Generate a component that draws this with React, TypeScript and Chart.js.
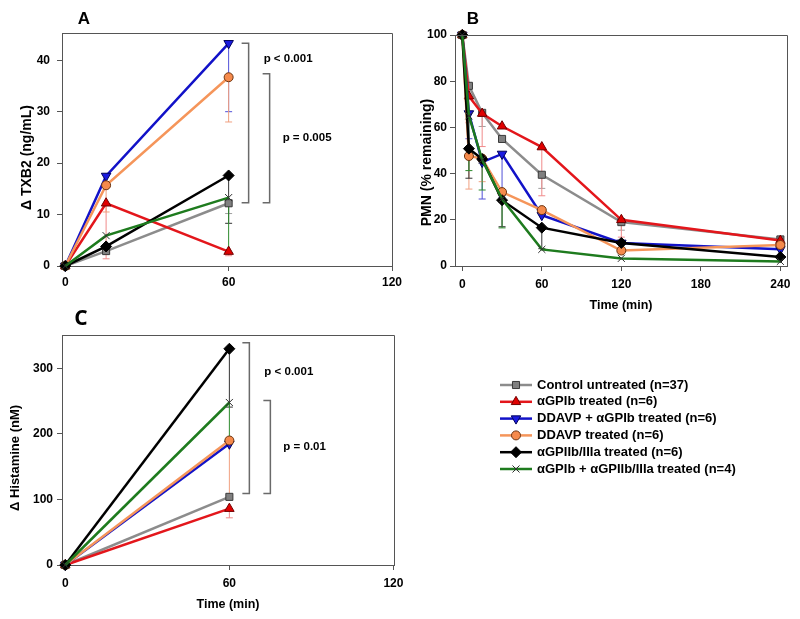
import React, { useEffect, useRef } from 'react';
import { Chart, registerables } from 'chart.js';
import { drawPoint } from 'chart.js/helpers';

Chart.register(...registerables);

const FONT = "'Liberation Sans', Arial, Helvetica, sans-serif";
const AXIS_COLOR = '#555555';

const SERIES_LABELS = [
  'Control untreated (n=37)',
  'αGPIb treated (n=6)',
  'DDAVP + αGPIb treated (n=6)',
  'DDAVP treated (n=6)',
  'αGPIIb/IIIa treated (n=6)',
  'αGPIb + αGPIIb/IIIa treated (n=4)',
];

// ---------- Panel A : Δ TXB2 ----------
const A_TIME = [0, 15, 60];
const A_CONTROL = [0, 2.9, 12.2];
const A_GPIB = [0, 12.2, 2.8];
const A_DDAVP_GPIB = [0, 17.5, 43.3];
const A_DDAVP = [0, 15.7, 36.7];
const A_GPIIB = [0, 3.8, 17.6];
const A_GPIB_GPIIB = [0, 5.9, 13.3];
const A_CONTROL_ERR = [null, null, 10.2];
const A_GPIB_ERR = [null, 1.4, 2.0];
const A_DDAVP_GPIB_ERR = [null, null, 30.0];
const A_DDAVP_ERR = [null, 10.5, 28.0];
const A_GPIIB_ERR = [null, null, 8.3];
const A_GPIB_GPIIB_ERR = [null, null, 2.6];
const A_X_TICKS = [0, 60, 120];
const A_Y_TICKS = [0, 10, 20, 30, 40];
const A_BRACKETS = [[43.3, 12.3], [37.4, 12.3]];
const A_P_LABELS = ['p < 0.001', 'p = 0.005'];

// ---------- Panel B : PMN ----------
const B_TIME = [0, 5, 15, 30, 60, 120, 240];
const B_CONTROL = [100, 78, 66.3, 55, 39.5, 19, 11.5];
const B_GPIB = [100, 73.5, 66, 60.5, 51.5, 20, 11];
const B_DDAVP_GPIB = [100, 66, 45, 48.5, 22, 10, 7.2];
const B_DDAVP = [100, 47.6, 46.5, 32, 24.2, 6.7, 9.1];
const B_GPIIB = [100, 50.8, 46.3, 28.5, 16.6, 10, 3.9];
const B_GPIB_GPIIB = [100, 65, 46, 29, 7.2, 3.3, 2];
const B_CONTROL_ERR = [null, null, 60.4, null, 33.6, 15.5, null];
const B_GPIB_ERR = [null, 62, 51.7, null, 30.4, 12.5, null];
const B_DDAVP_GPIB_ERR = [null, 55.1, 29, 29.7, null, null, null];
const B_DDAVP_ERR = [null, 33.3, 36.5, null, null, null, null];
const B_GPIIB_ERR = [null, 38, null, 17, 7.5, null, null];
const B_GPIB_GPIIB_ERR = [null, 41.3, 32.9, 16.5, null, null, null];
const B_X_TICKS = [0, 60, 120, 180, 240];
const B_Y_TICKS = [0, 20, 40, 60, 80, 100];

// ---------- Panel C : Δ Histamine ----------
const C_TIME = [0, 60];
const C_CONTROL = [0, 104];
const C_GPIB = [0, 86];
const C_DDAVP_GPIB = [0, 185];
const C_DDAVP = [0, 190];
const C_GPIIB = [0, 330];
const C_GPIB_GPIIB = [0, 248];
const C_CONTROL_ERR = [null, null];
const C_GPIB_ERR = [null, 72];
const C_DDAVP_GPIB_ERR = [null, null];
const C_DDAVP_ERR = [null, 100];
const C_GPIIB_ERR = [null, 241];
const C_GPIB_GPIIB_ERR = [null, 190];
const C_X_TICKS = [0, 60, 120];
const C_Y_TICKS = [0, 100, 200, 300];
const C_BRACKETS = [[339, 109], [251, 109]];
const C_P_LABELS = ['p < 0.001', 'p = 0.01'];

const STYLES = [
  { line: '#8c8c8c', fill: '#808080', edge: '#3a3a3a', style: 'rect', radius: 5, rot: 0, err: '#a0a0a0' },
  { line: '#e3161b', fill: '#e00000', edge: '#700000', style: 'triangle', radius: 5.5, rot: 0, err: '#f08a8a' },
  { line: '#1212c8', fill: '#1a1ae0', edge: '#00005a', style: 'triangle', radius: 5.5, rot: 180, err: '#5050d8' },
  { line: '#f5955a', fill: '#f58a4c', edge: '#6b3410', style: 'circle', radius: 4.5, rot: 0, err: '#f0a080' },
  { line: '#000000', fill: '#000000', edge: '#000000', style: 'rectRot', radius: 5.5, rot: 0, err: '#333333' },
  { line: '#1e7b1e', fill: 'rgba(0,0,0,0)', edge: '#303030', style: 'crossRot', radius: 5, rot: 0, err: '#2e8b2e' },
];

type Panel = {
  time: number[];
  series: number[][];
  errs: (number | null)[][];
  xMin: number; xMax: number; xTicks: number[];
  yMin: number; yMax: number; yTicks: number[];
  yTitle: string; xTitle: string | null;
  yTitleSize: number; yTitleX: number; yTitleDy: number;
  pad: { left: number; top: number; right: number; bottom: number };
  yWidth: number; xHeight: number; yTickPad: number; xTickPad: number;
  letter: string; letterFont: string; letterDx: number; letterDy: number;
  brackets?: number[][]; pLabels?: string[]; bracketAt?: number;
  legend?: boolean;
};

const PANELS: Panel[] = [
  {
    time: A_TIME,
    series: [A_CONTROL, A_GPIB, A_DDAVP_GPIB, A_DDAVP, A_GPIIB, A_GPIB_GPIIB],
    errs: [A_CONTROL_ERR, A_GPIB_ERR, A_DDAVP_GPIB_ERR, A_DDAVP_ERR, A_GPIIB_ERR, A_GPIB_GPIIB_ERR],
    xMin: -1.2, xMax: 120, xTicks: A_X_TICKS,
    yMin: 0, yMax: 45.3, yTicks: A_Y_TICKS,
    yTitle: 'Δ TXB2 (ng/mL)', xTitle: null,
    yTitleSize: 14, yTitleX: 27, yTitleDy: 8,
    pad: { left: 16, top: 33, right: 408, bottom: 323 },
    yWidth: 46, xHeight: 30, yTickPad: 7, xTickPad: 4,
    letter: 'A', letterFont: `bold 17px ${FONT}`, letterDx: 22, letterDy: -14,
    brackets: A_BRACKETS, pLabels: A_P_LABELS, bracketAt: 60,
  },
  {
    time: B_TIME,
    series: [B_CONTROL, B_GPIB, B_DDAVP_GPIB, B_DDAVP, B_GPIIB, B_GPIB_GPIIB],
    errs: [B_CONTROL_ERR, B_GPIB_ERR, B_DDAVP_GPIB_ERR, B_DDAVP_ERR, B_GPIIB_ERR, B_GPIB_GPIIB_ERR],
    xMin: -5.5, xMax: 245, xTicks: B_X_TICKS,
    yMin: 0, yMax: 100, yTicks: B_Y_TICKS,
    yTitle: 'PMN (% remaining)', xTitle: 'Time (min)',
    yTitleSize: 14, yTitleX: 427, yTitleDy: 12,
    pad: { left: 416, top: 35, right: 13, bottom: 302 },
    yWidth: 39, xHeight: 51, yTickPad: 3, xTickPad: 6,
    letter: 'B', letterFont: `bold 17px ${FONT}`, letterDx: 18, letterDy: -16,
  },
  {
    time: C_TIME,
    series: [C_CONTROL, C_GPIB, C_DDAVP_GPIB, C_DDAVP, C_GPIIB, C_GPIB_GPIIB],
    errs: [C_CONTROL_ERR, C_GPIB_ERR, C_DDAVP_GPIB_ERR, C_DDAVP_ERR, C_GPIIB_ERR, C_GPIB_GPIIB_ERR],
    xMin: -1.2, xMax: 120.2, xTicks: C_X_TICKS,
    yMin: 0, yMax: 351, yTicks: C_Y_TICKS,
    yTitle: 'Δ Histamine (nM)', xTitle: 'Time (min)',
    yTitleSize: 13, yTitleX: 15, yTitleDy: 8,
    pad: { left: 4, top: 335, right: 406, bottom: 3 },
    yWidth: 58, xHeight: 51, yTickPad: 4, xTickPad: 6,
    letter: 'C', letterFont: `bold 21px 'Open Sans', Lato, sans-serif`, letterDx: 19, letterDy: -16,
    brackets: C_BRACKETS, pLabels: C_P_LABELS, bracketAt: 60,
    legend: true,
  },
];

function makePlugin(p: Panel) {
  return {
    id: 'panelDecor',
    beforeDatasetsDraw(chart: any) {
      const ctx = chart.ctx;
      const xs = chart.scales.x;
      const ys = chart.scales.y;
      ctx.save();
      p.errs.forEach((errArr, di) => {
        const st = STYLES[di];
        ctx.strokeStyle = st.err;
        ctx.lineWidth = 1;
        errArr.forEach((e, i) => {
          if (e === null || e === undefined) return;
          const px = xs.getPixelForValue(p.time[i]);
          const py0 = ys.getPixelForValue(p.series[di][i]);
          const py1 = ys.getPixelForValue(e);
          ctx.beginPath();
          ctx.moveTo(px, py0);
          ctx.lineTo(px, py1);
          ctx.moveTo(px - 3.5, py1);
          ctx.lineTo(px + 3.5, py1);
          ctx.stroke();
        });
      });
      ctx.restore();
    },
    afterDraw(chart: any) {
      const ctx = chart.ctx;
      const a = chart.chartArea;
      const xs = chart.scales.x;
      const ys = chart.scales.y;
      ctx.save();
      // frame (top & right)
      ctx.strokeStyle = AXIS_COLOR;
      ctx.lineWidth = 1;
      ctx.beginPath();
      ctx.moveTo(a.left, a.top + 0.5);
      ctx.lineTo(a.right + 0.5, a.top + 0.5);
      ctx.lineTo(a.right + 0.5, a.bottom);
      ctx.stroke();
      // y title
      ctx.save();
      ctx.fillStyle = '#000';
      ctx.font = `bold ${p.yTitleSize}px ${FONT}`;
      ctx.textAlign = 'center';
      ctx.textBaseline = 'middle';
      ctx.translate(p.yTitleX, (a.top + a.bottom) / 2 + p.yTitleDy);
      ctx.rotate(-Math.PI / 2);
      ctx.fillText(p.yTitle, 0, 0);
      ctx.restore();
      // panel letter
      ctx.fillStyle = '#000';
      ctx.font = p.letterFont;
      ctx.textAlign = 'center';
      ctx.textBaseline = 'middle';
      ctx.fillText(p.letter, a.left + p.letterDx, a.top + p.letterDy);
      // brackets
      if (p.brackets && p.pLabels && p.bracketAt !== undefined) {
        const base = xs.getPixelForValue(p.bracketAt);
        const offs = [20, 41];
        ctx.strokeStyle = '#6a6a6a';
        ctx.lineWidth = 1.5;
        p.brackets.forEach((sp, k) => {
          const bx = base + offs[k];
          const yt = ys.getPixelForValue(sp[0]);
          const yb = ys.getPixelForValue(sp[1]);
          ctx.beginPath();
          ctx.moveTo(bx - 7, yt);
          ctx.lineTo(bx, yt);
          ctx.lineTo(bx, yb);
          ctx.lineTo(bx - 7, yb);
          ctx.stroke();
        });
        ctx.fillStyle = '#000';
        ctx.font = `bold 11.5px ${FONT}`;
        ctx.textAlign = 'left';
        ctx.textBaseline = 'middle';
        const b0 = p.brackets[0];
        const b1 = p.brackets[1];
        const y0 = (ys.getPixelForValue(b0[0]) + ys.getPixelForValue(b1[0])) / 2;
        const y1 = (ys.getPixelForValue(b1[0]) + ys.getPixelForValue(b1[1])) / 2;
        ctx.fillText(p.pLabels[0], base + offs[0] + 15, y0);
        ctx.fillText(p.pLabels[1], base + offs[1] + 13, y1);
      }
      // legend
      if (p.legend) {
        const lx0 = a.right + 106;
        const lx1 = lx0 + 32;
        const tx = lx1 + 5;
        const ly0 = a.top + 50;
        const dy = 16.8;
        SERIES_LABELS.forEach((lab, i) => {
          const st = STYLES[i];
          const y = ly0 + i * dy;
          ctx.strokeStyle = st.line;
          ctx.lineWidth = 2.5;
          ctx.beginPath();
          ctx.moveTo(lx0, y);
          ctx.lineTo(lx1, y);
          ctx.stroke();
          ctx.fillStyle = st.fill;
          ctx.strokeStyle = st.edge;
          ctx.lineWidth = 1;
          drawPoint(ctx, { pointStyle: st.style as any, rotation: st.rot, radius: st.radius, borderWidth: 1 } as any, (lx0 + lx1) / 2, y);
          ctx.fillStyle = '#000';
          ctx.font = `bold 13px ${FONT}`;
          ctx.textAlign = 'left';
          ctx.textBaseline = 'middle';
          ctx.fillText(lab, tx, y);
        });
      }
      ctx.restore();
    },
  };
}

function buildConfig(p: Panel): any {
  const datasets = p.series.map((vals, di) => {
    const st = STYLES[di];
    return {
      label: SERIES_LABELS[di],
      data: p.time.map((t, i) => ({ x: t, y: vals[i] })),
      borderColor: st.line,
      backgroundColor: st.fill,
      borderWidth: 2.5,
      pointStyle: st.style,
      pointRotation: st.rot,
      pointRadius: st.radius,
      pointBackgroundColor: st.fill,
      pointBorderColor: st.edge,
      pointBorderWidth: 1,
      tension: 0,
      clip: false,
      order: 5 - di,
    };
  });
  const tickFont = { family: FONT, size: 12, weight: 'bold' };
  const titleFont = { family: FONT, size: 12.5, weight: 'bold' };
  return {
    type: 'line',
    data: { datasets },
    options: {
      responsive: false,
      animation: false,
      devicePixelRatio: 1,
      events: [],
      layout: { padding: p.pad },
      plugins: { legend: { display: false }, tooltip: { enabled: false }, title: { display: false } },
      scales: {
        x: {
          type: 'linear',
          min: p.xMin,
          max: p.xMax,
          afterBuildTicks: (s: any) => { s.ticks = p.xTicks.map((v) => ({ value: v })); },
          afterFit: (s: any) => { s.height = p.xHeight; },
          grid: { drawOnChartArea: false, drawTicks: true, tickLength: 5, color: AXIS_COLOR },
          border: { display: true, color: AXIS_COLOR, width: 1 },
          ticks: { font: tickFont, color: '#000', padding: p.xTickPad, maxRotation: 0, autoSkip: false },
          title: p.xTitle
            ? { display: true, text: p.xTitle, font: titleFont, color: '#000', padding: { top: 4, bottom: 4 } }
            : { display: false },
        },
        y: {
          type: 'linear',
          min: p.yMin,
          max: p.yMax,
          afterBuildTicks: (s: any) => { s.ticks = p.yTicks.map((v) => ({ value: v })); },
          afterFit: (s: any) => { s.width = p.yWidth; },
          grid: { drawOnChartArea: false, drawTicks: true, tickLength: 5, color: AXIS_COLOR },
          border: { display: true, color: AXIS_COLOR, width: 1 },
          ticks: { font: tickFont, color: '#000', padding: p.yTickPad, autoSkip: false },
          title: { display: false },
        },
      },
    },
    plugins: [makePlugin(p)],
  };
}

function PanelCanvas({ panel }: { panel: Panel }) {
  const ref = useRef<HTMLCanvasElement | null>(null);
  useEffect(() => {
    if (!ref.current) return;
    const chart = new Chart(ref.current, buildConfig(panel));
    return () => chart.destroy();
  }, [panel]);
  return (
    <canvas
      ref={ref}
      width={800}
      height={619}
      style={{ position: 'absolute', left: 0, top: 0, width: 800, height: 619 }}
    />
  );
}

export default function App() {
  return (
    <div style={{ position: 'fixed', left: 0, top: 0, width: 800, height: 619, background: '#ffffff', overflow: 'hidden' }}>
      {PANELS.map((p, i) => (
        <PanelCanvas key={i} panel={p} />
      ))}
    </div>
  );
}
